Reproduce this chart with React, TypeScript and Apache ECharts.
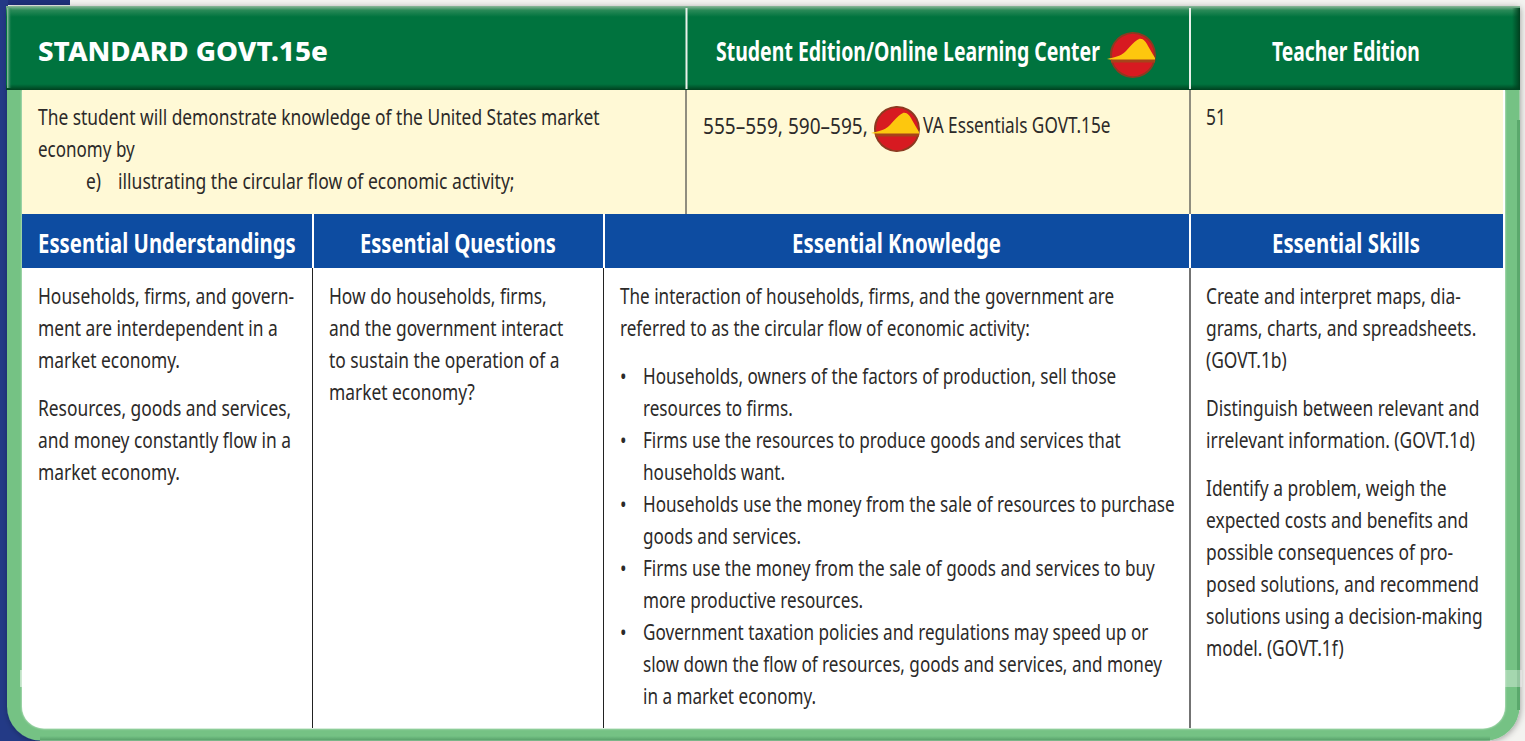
import React, { useEffect, useRef } from "react";
import * as echarts from "echarts";

const standardTitle = "STANDARD GOVT.15e";
const studentHeader = "Student Edition/Online Learning Center";
const teacherHeader = "Teacher Edition";
const standardLines = [
  "The student will demonstrate knowledge of the United States market",
  "economy by",
];
const standardItemMark = "e)";
const standardItem = "illustrating the circular flow of economic activity;";
const pagesBefore = "555–559, 590–595,";
const pagesAfter = "VA Essentials GOVT.15e";
const teacherPages = "51";
const understandingsHeader = "Essential Understandings";
const questionsHeader = "Essential Questions";
const knowledgeHeader = "Essential Knowledge";
const skillsHeader = "Essential Skills";
const understandings = [
  ["Households, firms, and govern-", "ment are interdependent in a", "market economy."],
  ["Resources, goods and services,", "and money constantly flow in a", "market economy."],
];
const questions = [
  ["How do households, firms,", "and the government interact", "to sustain the operation of a", "market economy?"],
];
const knowledgeIntro = [
  "The interaction of households, firms, and the government are",
  "referred to as the circular flow of economic activity:",
];
const knowledgeBullets = [
  ["Households, owners of the factors of production, sell those", "resources to firms."],
  ["Firms use the resources to produce goods and services that", "households want."],
  ["Households use the money from the sale of resources to purchase", "goods and services."],
  ["Firms use the money from the sale of goods and services to buy", "more productive resources."],
  ["Government taxation policies and regulations may speed up or", "slow down the flow of resources, goods and services, and money", "in a market economy."],
];
const skills = [
  ["Create and interpret maps, dia-", "grams, charts, and spreadsheets.", "(GOVT.1b)"],
  ["Distinguish between relevant and", "irrelevant information. (GOVT.1d)"],
  ["Identify a problem, weigh the", "expected costs and benefits and", "possible consequences of pro-", "posed solutions, and recommend", "solutions using a decision-making", "model. (GOVT.1f)"],
];

const FAMILY = '"Noto Sans", sans-serif';
const BODY_FONT = `400 22px ${FAMILY}`;
const HEAD_FONT = `700 26px ${FAMILY}`;
const TITLE_FONT = `800 26px ${FAMILY}`;
const INK = "#2c2a29";
const LINE_H = 32;
const PARA_GAP = 16;

const measureCtx = document.createElement("canvas").getContext("2d")!;
function fitScale(text: string, font: string, width: number) {
  measureCtx.font = font;
  return width / measureCtx.measureText(text).width;
}

const iconPath =
  "M-26 4 C-18 2 -12 1 -8 -3 C-4 -7 0 -13 6 -16 C10 -17 13 -13 15 -9 L22 3 L22 5 L-20 5 Z";
echarts.graphic.registerShape("stateShape", echarts.graphic.extendPath(iconPath as any, {}) as any);

function icon(cx: number, cy: number) {
  return {
    type: "group",
    x: cx,
    y: cy,
    children: [
      { type: "circle", shape: { cx: 0, cy: 0, r: 22 }, style: { fill: "#d71a21", stroke: "#8c3a20", lineWidth: 2 } },
      { type: "stateShape", style: { fill: "#fdc70e" } },
      { type: "rect", shape: { x: -22, y: 4.5, width: 44, height: 3 }, style: { fill: "#a6431a" } },
    ],
  };
}

function txt(text: string, x: number, y: number, font: string, fill: string, scaleX: number) {
  return {
    type: "text",
    x,
    y,
    scaleX,
    style: { text, x: 0, y: 0, font, fill, verticalAlign: "middle", align: "left" },
  };
}

function rect(x: number, y: number, width: number, height: number, fill: any) {
  return { type: "rect", shape: { x, y, width, height }, style: { fill } };
}

function vline(x: number, y1: number, y2: number, stroke: string, lineWidth: number) {
  return { type: "line", shape: { x1: x, y1, x2: x, y2 }, style: { stroke, lineWidth } };
}

function hGrad(a: string, b: string) {
  return { type: "linear", x: 0, y: 0, x2: 1, y2: 0, colorStops: [{ offset: 0, color: a }, { offset: 1, color: b }] };
}
function vGrad(a: string, b: string) {
  return { type: "linear", x: 0, y: 0, x2: 0, y2: 1, colorStops: [{ offset: 0, color: a }, { offset: 1, color: b }] };
}

function buildElements() {
  const bodyScale = fitScale(standardLines[0], BODY_FONT, 562);
  const body = (t: string, x: number, y: number, k = 1) => txt(t, x, y, BODY_FONT, INK, bodyScale * k);
  const flow = (paras: string[][], x: number, start: number, k = 1) => {
    const out: any[] = [];
    let y = start;
    paras.forEach((p) => {
      p.forEach((l) => {
        out.push(body(l, x, y, k));
        y += LINE_H;
      });
      y += PARA_GAP;
    });
    return out;
  };
  const green = {
    type: "linear", x: 0, y: 0, x2: 0, y2: 1,
    colorStops: [
      { offset: 0, color: "#8cb89a" },
      { offset: 0.05, color: "#2a8a58" },
      { offset: 0.13, color: "#00733e" },
      { offset: 0.93, color: "#00733e" },
      { offset: 1, color: "#00401f" },
    ],
  };

  const els: any[] = [];
  els.push(rect(0, 0, 1525, 741, "#f3f3f0"));
  els.push(rect(0, 0, 70, 5, "#1e2f7a"));
  els.push(rect(0, 0, 8, 741, "#233a86"));
  els.push(rect(0, 700, 40, 41, "#233a86"));
  els.push({
    type: "rect",
    shape: { x: 7, y: 6, width: 1512.5, height: 734.5, r: [4, 4, 34, 34] },
    style: { fill: "#74c284", shadowBlur: 6, shadowColor: "rgba(0,0,0,0.35)", shadowOffsetX: 1, shadowOffsetY: 1 },
  });
  // soft shading on the frame's edges
  els.push(rect(1517, 120, 3, 590, "#5aa86c"));
  els.push(rect(40, 736, 1450, 4.5, vGrad("#74c284", "#579f69")));
  els.push({
    type: "rect",
    shape: { x: 22, y: 90, width: 1483, height: 638.5, r: [0, 0, 22, 22] },
    style: { fill: "#ffffff", shadowBlur: 2, shadowColor: "rgba(255,255,255,0.8)" },
  });
  els.push(rect(6, 6, 1514, 84, green));
  els.push(rect(7, 8, 5, 80, hGrad("#9cc4a8", "rgba(0,115,62,0)")));
  els.push(rect(1512, 8, 8, 81, hGrad("rgba(0,64,31,0)", "#00401f")));
  els.push(rect(22, 90, 1481, 124, "#fff9d6"));
  els.push(rect(22, 214, 290, 54, "#0d4ca1"));
  els.push(rect(314, 214, 289, 54, "#0d4ca1"));
  els.push(rect(605, 214, 584, 54, "#0d4ca1"));
  els.push(rect(1191, 214, 312, 54, "#0d4ca1"));
  els.push(vline(686.5, 8, 89, "#e8f1ea", 2));
  els.push(vline(1190, 8, 89, "#e8f1ea", 2));
  els.push(vline(686, 90, 214, "#6b6a62", 1.5));
  els.push(vline(1190, 90, 214, "#6b6a62", 1.5));
  els.push(vline(312.5, 268, 728, "#222222", 1));
  els.push(vline(603.5, 268, 728, "#222222", 1));
  els.push(vline(1190, 268, 728, "#444444", 1.5));
  // faint stripe left in the scan at both sides
  els.push(rect(1505, 670, 17, 17, "rgba(255,255,255,0.35)"));
  els.push(rect(20, 670, 2, 17, "rgba(255,255,255,0.5)"));
  const head = (t: string, x: number, y: number, w: number) => txt(t, x, y, HEAD_FONT, "#ffffff", fitScale(t, HEAD_FONT, w));
  els.push(txt(standardTitle, 38, 51, TITLE_FONT, "#ffffff", fitScale(standardTitle, TITLE_FONT, 290)));
  els.push(head(studentHeader, 716, 51, 384));
  els.push(head(teacherHeader, 1272, 51, 148));
  els.push(head(understandingsHeader, 38, 243, 258));
  els.push(head(questionsHeader, 360, 243, 196));
  els.push(head(knowledgeHeader, 792, 243, 209));
  els.push(head(skillsHeader, 1272, 243, 148));
  standardLines.forEach((l, i) => els.push(body(l, 38, 117 + i * LINE_H, i === 1 ? 0.98 : 1)));
  els.push(body(standardItemMark, 86, 181));
  els.push(txt(standardItem, 118, 181, BODY_FONT, INK, fitScale(standardItem, BODY_FONT, 397)));
  els.push(txt(pagesBefore, 703, 125, BODY_FONT, INK, fitScale(pagesBefore, BODY_FONT, 165)));
  els.push(body(pagesAfter, 923, 125, 0.99));
  els.push(body(teacherPages, 1206, 117));
  els.push(icon(1133, 55));
  els.push(icon(897, 129));
  els.push(...flow(understandings, 38, 296));
  els.push(...flow(questions, 329, 296));
  els.push(...flow([knowledgeIntro], 620, 296, 0.985));
  let y = 376;
  knowledgeBullets.forEach((b) => {
    els.push(body("•", 620, y));
    b.forEach((l) => {
      els.push(body(l, 643, y, 0.985));
      y += LINE_H;
    });
  });
  els.push(...flow(skills, 1206, 296));
  return els;
}

export default function App() {
  const ref = useRef<HTMLDivElement>(null);
  useEffect(() => {
    const chart = echarts.init(ref.current!, undefined, { renderer: "svg" });
    chart.setOption({ animation: false, graphic: { elements: buildElements() } });
    return () => chart.dispose();
  }, []);
  return <div ref={ref} style={{ position: "absolute", left: 0, top: 0, width: 1525, height: 741 }} />;
}
